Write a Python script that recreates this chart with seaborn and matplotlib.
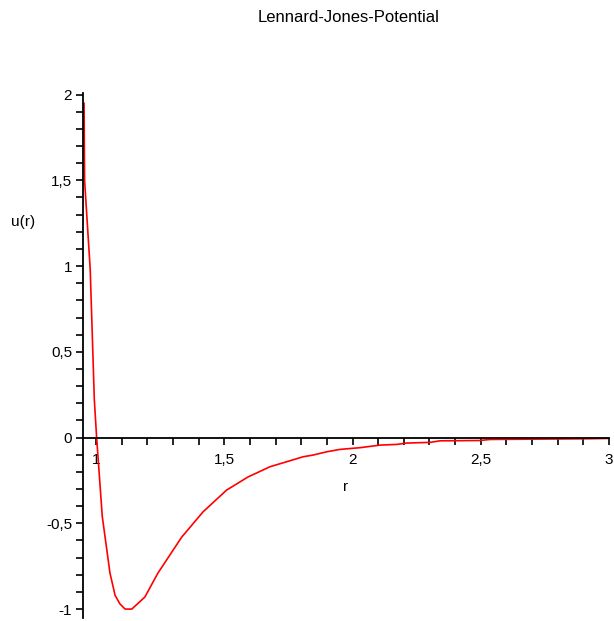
import matplotlib
matplotlib.use("Agg")
from matplotlib import pyplot as plt
from matplotlib.ticker import MultipleLocator, FixedLocator
import pandas as pd
import seaborn as sns

# Werte
r_werte = [0.953, 0.955, 0.977, 0.993, 1.002, 1.024, 1.054, 1.074, 1.093, 1.113,
           1.139, 1.190, 1.241, 1.334, 1.417, 1.509, 1.592, 1.678, 1.743, 1.807,
           1.846, 1.899, 1.951, 2.029, 2.107, 2.172, 2.211, 2.302, 2.341, 2.497,
           2.536, 2.913, 3.0]
u_werte = [1.95, 1.50, 0.98, 0.22, 0.0, -0.46, -0.79, -0.92, -0.97, -1.0,
           -1.0, -0.93, -0.79, -0.58, -0.433, -0.306, -0.23, -0.17, -0.141, -0.112,
           -0.102, -0.083, -0.069, -0.059, -0.044, -0.040, -0.032, -0.028, -0.019, -0.017,
           -0.011, -0.007, -0.005]

x_ticks = [1, 1.5, 2, 2.5, 3]
x_labels = ["1", "1,5", "2", "2,5", "3"]
y_ticks = [-1, -0.5, 0, 0.5, 1, 1.5, 2]
y_labels = ["-1", "-0,5", "0", "0,5", "1", "1,5", "2"]

sns.set_theme(style="white")
plt.rcParams['font.family'] = ['Liberation Sans', 'DejaVu Sans']
plt.rcParams['font.size'] = 11
plt.rcParams['text.color'] = 'black'

df = pd.DataFrame({"r": r_werte, "u": u_werte})

fig = plt.figure(figsize=(6.14, 6.21), dpi=100)
ax = fig.add_axes([83.3 / 614, 1 - 618 / 621, (609 - 83.3) / 614, (618 - 93) / 621])
sns.lineplot(data=df, x="r", y="u", ax=ax, color="red", linewidth=1.2,
             estimator=None, sort=False)

ax.set_xlim(0.95, 3.0)
ax.set_ylim(-1.052, 2.009)

# Achsen wie bei Maple: x-Achse durch 0
for s in ["top", "right"]:
    ax.spines[s].set_visible(False)
ax.spines["bottom"].set_position(("data", 0))
for s in ["left", "bottom"]:
    ax.spines[s].set_color("black")
    ax.spines[s].set_linewidth(1.3)

ax.xaxis.set_major_locator(FixedLocator(x_ticks))
ax.set_xticklabels(x_labels)
ax.yaxis.set_major_locator(FixedLocator(y_ticks))
ax.set_yticklabels(y_labels)
ax.xaxis.set_minor_locator(MultipleLocator(0.1))
ax.yaxis.set_minor_locator(MultipleLocator(0.1))
ax.tick_params(which="both", direction="out", length=5, width=1.2, color="black",
               bottom=True, left=True, labelsize=11, labelcolor="black")
ax.tick_params(axis="x", pad=6)
ax.tick_params(axis="y", pad=3)
ax.set_xlabel("")
ax.set_ylabel("")

fig.text(23 / 614, 1 - 222 / 621, "u(r)", ha="center", va="center", fontsize=11,
         color="black")
fig.text(346 / 614, 1 - 487 / 621, "r", ha="center", va="center", fontsize=11,
         color="black")
fig.text(349 / 614, 1 - 17 / 621, "Lennard-Jones-Potential", ha="center", va="center",
         fontsize=12, color="black")

fig.savefig("out.png", dpi=100)
